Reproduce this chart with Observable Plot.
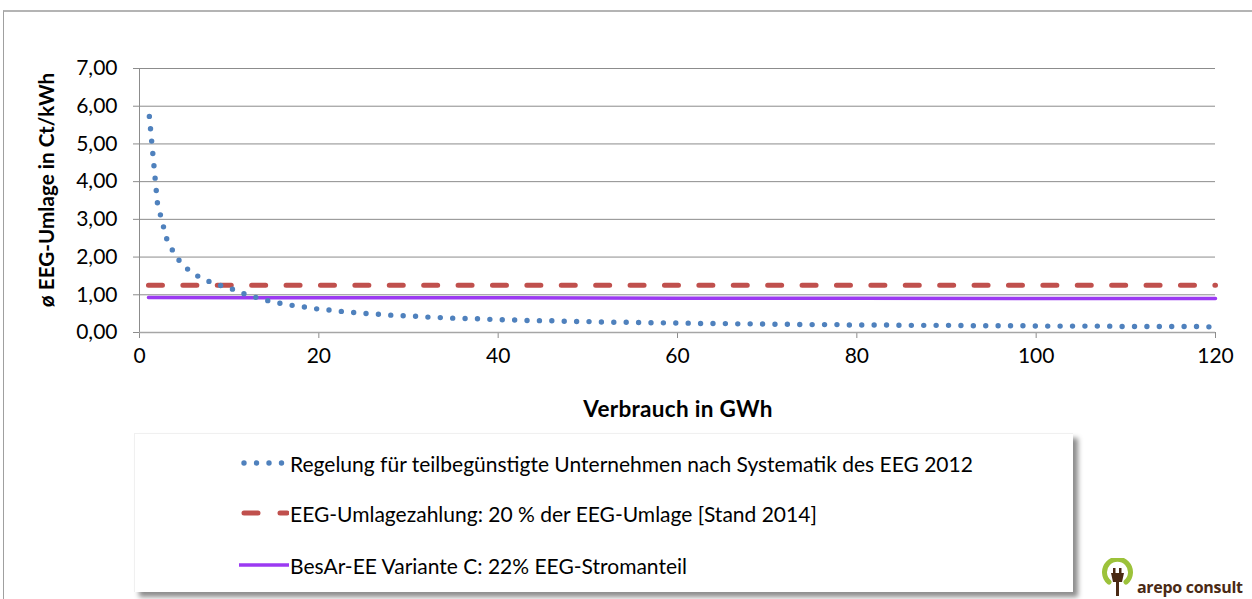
<!DOCTYPE html>
<html>
<head>
<meta charset="utf-8">
<script src="https://cdn.jsdelivr.net/npm/d3@7"></script>
<script src="https://cdn.jsdelivr.net/npm/@observablehq/plot@0.6"></script>
<style>
  html, body { margin: 0; padding: 0; background: #fff; }
  body { width: 1252px; height: 599px; overflow: hidden; position: relative; font-family: Lato, "Open Sans", sans-serif; color: #000; }
  #frame { position: absolute; left: 3px; top: 10px; width: 1400px; height: 800px; border-top: 2px solid #b4b4b4; border-left: 1px solid #a0a0a0; }
  #chart { position: absolute; left: 0; top: 0; }
  .ytitle { position: absolute; left: 46px; top: 190px; transform: translate(-50%, -50%) rotate(-90deg); font-weight: bold; font-size: 20.7px; white-space: nowrap; }
  .xtitle { position: absolute; left: 678px; top: 408px; transform: translate(-50%, -50%); font-weight: bold; font-size: 22.5px; letter-spacing: 0.3px; white-space: nowrap; }
  #legend { position: absolute; left: 134px; top: 433px; width: 938px; height: 158px; background: #fff; box-shadow: 5px 5px 5px rgba(0,0,0,0.45); border-top: 1px solid #f0f0f0; border-left: 1px solid #f0f0f0; }
  .item { position: absolute; left: 104px; height: 26px; display: flex; align-items: center; font-size: 21px; white-space: nowrap; }
  .item svg { width: 50px; height: 10px; margin-right: 1px; }
  #logo { position: absolute; left: 1100px; top: 558px; width: 150px; height: 40px; }
  #logo .word { position: absolute; left: 37px; top: 18px; font-size: 16px; font-weight: bold; color: #4a2a14; letter-spacing: -0.3px; font-family: "Open Sans", sans-serif; }
</style>
</head>
<body>
<div id="frame"></div>
<div id="chart"></div>
<div class="ytitle">ø EEG-Umlage in Ct/kWh</div>
<div class="xtitle">Verbrauch in GWh</div>
<div id="legend"></div>
<div id="logo">
  <svg width="40" height="40" style="position:absolute;left:0;top:0">
    <path d="M 9 24 A 13 13 0 1 1 26 24" fill="none" stroke="#9cc23a" stroke-width="5" stroke-linecap="round"/>
    <rect x="13" y="10" width="2.5" height="6" fill="#4a2a14"/>
    <rect x="19" y="10" width="2.5" height="6" fill="#4a2a14"/>
    <path d="M 11 15 L 24 15 L 22 24 L 19 24 L 19 38 L 16 38 L 16 24 L 13 24 Z" fill="#4a2a14"/>
  </svg>
  <span class="word">arepo consult</span>
</div>
<script>
// Consumption (GWh) for the EEG 2012 partial-privilege series
const verbrauch = [1.1, 2, 3, 4, 5, 6, 7, 8, 9, 10,
  11, 12, 13, 14, 15, 16, 17, 18, 19, 20,
  21, 22, 23, 24, 25, 26, 27, 28, 29, 30,
  31, 32, 33, 34, 35, 36, 37, 38, 39, 40,
  41, 42, 43, 44, 45, 46, 47, 48, 49, 50,
  51, 52, 53, 54, 55, 56, 57, 58, 59, 60,
  61, 62, 63, 64, 65, 66, 67, 68, 69, 70,
  71, 72, 73, 74, 75, 76, 77, 78, 79, 80,
  81, 82, 83, 84, 85, 86, 87, 88, 89, 90,
  91, 92, 93, 94, 95, 96, 97, 98, 99, 100,
  101, 102, 103, 104, 105, 106, 107, 108, 109, 110,
  111, 112, 113, 114, 115, 116, 117, 118, 119, 120];
// Average EEG levy (ct/kWh)
const eeg2012 = [5.73, 3.43, 2.50, 2.03, 1.75, 1.56, 1.43, 1.33, 1.25, 1.19,
  1.08, 1.00, 0.93, 0.86, 0.81, 0.76, 0.72, 0.69, 0.65, 0.62,
  0.60, 0.57, 0.55, 0.53, 0.51, 0.49, 0.48, 0.46, 0.45, 0.44,
  0.43, 0.41, 0.40, 0.39, 0.38, 0.37, 0.37, 0.36, 0.35, 0.34,
  0.34, 0.33, 0.32, 0.32, 0.31, 0.31, 0.30, 0.30, 0.29, 0.29,
  0.28, 0.28, 0.27, 0.27, 0.27, 0.26, 0.26, 0.26, 0.25, 0.25,
  0.25, 0.24, 0.24, 0.24, 0.24, 0.23, 0.23, 0.23, 0.23, 0.22,
  0.22, 0.22, 0.22, 0.21, 0.21, 0.21, 0.21, 0.21, 0.20, 0.20,
  0.20, 0.20, 0.20, 0.20, 0.19, 0.19, 0.19, 0.19, 0.19, 0.19,
  0.19, 0.18, 0.18, 0.18, 0.18, 0.18, 0.18, 0.18, 0.18, 0.17,
  0.17, 0.17, 0.17, 0.17, 0.17, 0.17, 0.17, 0.17, 0.16, 0.16,
  0.16, 0.16, 0.16, 0.16, 0.16, 0.16, 0.16, 0.16, 0.15, 0.15];
// 20 % of the EEG levy (Stand 2014)
const umlageX = [1, 120];
const umlage20 = [1.25, 1.25];
// BesAr-EE Variante C
const besarX = [1, 20, 40, 60, 80, 100, 120];
const besarC = [0.93, 0.92, 0.92, 0.91, 0.91, 0.90, 0.90];
// Axis ticks
const yTicks = [0, 1, 2, 3, 4, 5, 6, 7];
const xTicks = [0, 20, 40, 60, 80, 100, 120];
const seriesNames = [
  "Regelung für teilbegünstigte Unternehmen nach Systematik des EEG 2012",
  "EEG-Umlagezahlung: 20 % der EEG-Umlage [Stand 2014]",
  "BesAr-EE Variante C: 22% EEG-Stromanteil"
];
const colors = ["#4f81bd", "#c0504d", "#9b3af2"];

const blue = verbrauch.map((x, i) => ({x, y: eeg2012[i]}));
const red = umlageX.map((x, i) => ({x, y: umlage20[i]}));
const purple = besarX.map((x, i) => ({x, y: besarC[i]}));
const fmt = d => d.toFixed(2).replace(".", ",");

const plot = Plot.plot({
  width: 1252,
  height: 430,
  marginLeft: 139,
  marginRight: 37,
  marginTop: 68,
  marginBottom: 98,
  style: {fontFamily: "Lato, 'Open Sans', sans-serif", fontSize: "21px", color: "#000", background: "transparent", overflow: "visible"},
  x: {domain: [0, 120]},
  y: {domain: [0, 7]},
  marks: [
    Plot.gridY(yTicks, {stroke: "#8c8c8c", strokeOpacity: 1, strokeWidth: 1}),
    Plot.axisY(yTicks, {tickSize: 6, tickPadding: 16, tickFormat: fmt, label: null, stroke: "#8c8c8c"}),
    Plot.axisX(xTicks, {tickSize: 6, tickPadding: 10, label: null, stroke: "#8c8c8c"}),
    Plot.ruleX([0], {stroke: "#8c8c8c"}),
    Plot.ruleY([0], {stroke: "#a6a6a6", strokeWidth: 1.5}),
    Plot.line(red, {x: "x", y: "y", stroke: colors[1], strokeWidth: 5, strokeDasharray: "14 20.4", strokeLinecap: "round"}),
    Plot.line(purple, {x: "x", y: "y", stroke: colors[2], strokeWidth: 3.5}),
    Plot.line(blue, {x: "x", y: "y", stroke: colors[0], strokeWidth: 5.4, strokeDasharray: "0 12.4", strokeLinecap: "round", curve: "linear"})
  ]
});
document.getElementById("chart").appendChild(plot);

// Legend
const legend = document.getElementById("legend");
const tops = [16, 66, 118];
const samples = [
  {dash: "0 12.5", width: 5.4, cap: "round"},
  {dash: "14 22", width: 5, cap: "round"},
  {dash: null, width: 3.5, cap: "butt"}
];
seriesNames.forEach((name, i) => {
  const d = document.createElement("div");
  d.className = "item";
  d.style.top = tops[i] + "px";
  const s = samples[i];
  d.innerHTML = `<svg viewBox="0 0 50 10"><line x1="${i === 2 ? 0 : 5}" y1="5" x2="${i === 2 ? 50 : 48}" y2="5" stroke="${colors[i]}" stroke-width="${s.width}" ${s.dash ? `stroke-dasharray="${s.dash}"` : ""} stroke-linecap="${s.cap}"/></svg><span></span>`;
  d.querySelector("span").textContent = name;
  legend.appendChild(d);
});
</script>
</body>
</html>
